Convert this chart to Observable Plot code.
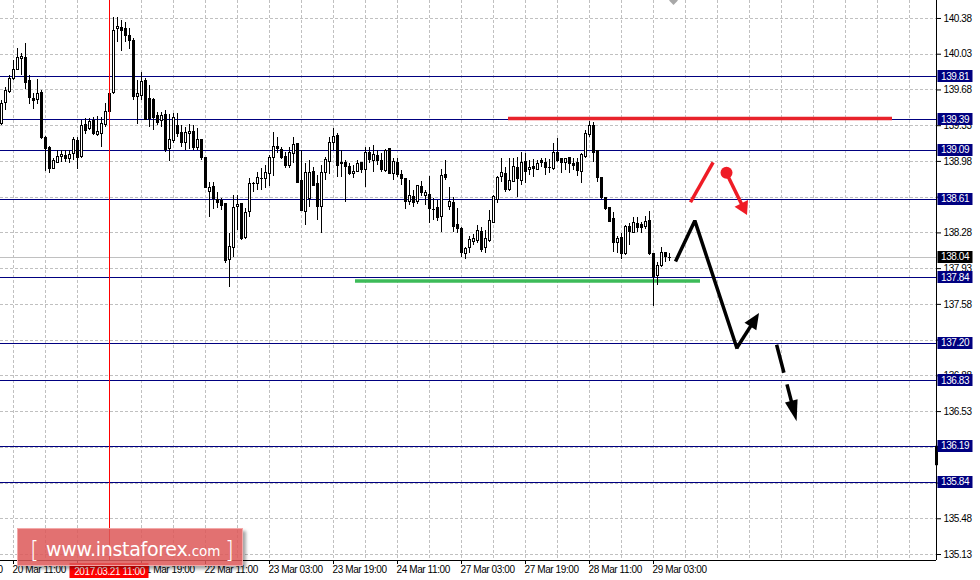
<!DOCTYPE html>
<html><head><meta charset="utf-8">
<script src="https://cdn.jsdelivr.net/npm/d3@7"></script>
<script src="https://cdn.jsdelivr.net/npm/@observablehq/plot@0.6"></script>
<style>
body{margin:0;background:#fff;}
#wrap{position:relative;width:980px;height:580px;overflow:hidden;}
#wm{position:absolute;left:17px;top:528px;width:226px;height:38px;background:rgba(221,90,90,0.86);border:1px solid rgba(245,175,175,0.9);box-shadow:3px 3px 3px rgba(0,0,0,0.35);box-sizing:border-box;}
#wm svg{position:absolute;left:0;top:0;}
</style></head><body><div id="wrap"></div>
<script>
// ---- data (hourly candles, index 0 = 20 Mar 08:00) ----
const opens = [139.35,139.55,139.66,139.79,139.88,139.98,139.99,139.77,139.59,139.58,
139.65,139.21,139.11,138.91,138.96,139.02,139.03,139.00,139.05,139.18,
139.02,139.34,139.30,139.38,139.24,139.25,139.34,139.64,139.65,140.28,
140.29,140.28,140.21,140.16,139.61,139.62,139.77,139.59,139.58,139.42,
139.38,139.43,139.10,139.18,139.33,139.26,139.16,139.25,139.27,139.11,
139.19,139.01,138.68,138.73,138.60,138.59,138.56,138.01,138.13,138.53,
138.56,138.23,138.48,138.76,138.76,138.81,138.81,138.86,139.01,139.12,
139.09,139.02,138.94,139.05,139.15,138.79,138.48,138.61,138.88,138.76,
138.53,138.87,138.97,139.16,139.23,138.96,138.96,138.93,138.86,138.88,
138.96,138.90,139.06,138.98,139.03,138.98,138.89,139.10,138.86,138.96,
138.85,138.81,138.58,138.63,138.58,138.73,138.64,138.65,138.51,138.52,
138.44,138.85,138.53,138.57,138.36,138.32,138.07,138.13,138.19,138.20,
138.29,138.13,138.20,138.38,138.60,138.83,138.86,138.70,138.78,138.92,
138.79,138.97,138.90,138.93,138.90,138.98,138.96,138.92,138.91,139.06,
139.00,138.96,139.01,138.95,138.96,138.88,139.02,139.24,139.33,139.08,
138.82,138.62,138.52,138.42,138.18,138.23,138.07,138.34,138.28,138.37,
138.36,138.34,138.40,138.07,137.86,137.96,138.08,138.04];
const highs = [139.58,139.70,139.82,139.97,140.09,140.04,140.13,139.82,139.65,139.78,
139.67,139.22,139.13,139.01,139.09,139.09,139.09,139.09,139.21,139.21,
139.38,139.40,139.40,139.41,139.42,139.41,139.55,139.69,140.39,140.39,
140.36,140.34,140.28,140.18,139.77,139.85,139.79,139.72,139.60,139.46,
139.46,139.48,139.44,139.45,139.45,139.33,139.31,139.34,139.33,139.30,
139.19,139.01,138.77,138.77,138.68,138.62,138.56,138.27,138.65,138.65,
138.56,138.52,138.81,138.77,138.87,138.91,138.94,139.04,139.26,139.21,
139.12,139.07,139.12,139.21,139.16,139.09,138.96,138.99,138.92,138.84,
138.94,139.02,139.21,139.30,139.25,139.09,138.99,138.96,138.94,138.99,
138.97,139.12,139.12,139.14,139.09,139.06,139.10,139.11,139.01,139.01,
138.89,138.81,138.79,138.70,138.74,138.78,138.70,138.83,138.62,138.60,
138.90,138.99,138.72,138.63,138.52,138.33,138.14,138.24,138.26,138.35,
138.33,138.30,138.50,138.65,138.83,139.01,138.92,139.01,139.01,139.02,
139.07,139.06,138.99,139.00,138.99,139.01,139.01,139.00,139.16,139.20,
139.01,139.01,139.01,139.01,139.01,139.06,139.28,139.37,139.36,139.08,
138.82,138.63,138.52,138.48,138.24,138.27,138.35,138.37,138.43,138.43,
138.38,138.44,138.49,138.08,137.99,138.14,138.09,138.08];
const lows = [139.33,139.48,139.65,139.77,139.87,139.82,139.68,139.54,139.49,139.54,
139.19,138.88,138.86,138.90,138.96,138.97,138.97,138.96,138.99,138.90,
139.01,139.24,139.28,139.23,139.22,139.12,139.31,139.45,139.64,140.14,
140.06,140.14,140.08,139.58,139.34,139.58,139.38,139.31,139.28,139.33,
139.31,139.07,138.98,139.16,139.21,139.12,139.09,139.10,139.09,139.09,
138.99,138.71,138.43,138.51,138.52,138.50,137.98,137.75,138.04,138.30,
138.21,138.22,138.43,138.68,138.70,138.70,138.71,138.73,138.83,139.06,
139.00,138.91,138.91,138.96,138.76,138.49,138.35,138.53,138.73,138.40,
138.27,138.79,138.85,139.09,138.82,138.82,138.58,138.84,138.81,138.87,
138.86,138.72,138.96,138.87,138.94,138.87,138.87,138.85,138.79,138.82,
138.74,138.51,138.55,138.53,138.56,138.64,138.55,138.37,138.40,138.39,
138.28,138.79,138.50,138.28,138.27,138.04,138.02,138.08,138.16,138.18,
138.09,138.08,138.19,138.37,138.57,138.77,138.68,138.69,138.77,138.63,
138.74,138.76,138.84,138.82,138.89,138.92,138.84,138.86,138.89,138.97,
138.86,138.89,138.86,138.89,138.83,138.76,139.01,139.21,138.97,138.77,
138.61,138.50,138.38,138.09,138.08,138.02,138.06,138.16,138.27,138.28,
138.27,138.31,138.06,137.56,137.76,137.94,137.99,138.00];
const closes = [139.54,139.67,139.79,139.88,139.99,140.00,139.75,139.60,139.57,139.64,
139.21,139.10,138.91,138.98,139.02,139.04,139.00,139.04,139.19,139.01,
139.33,139.28,139.37,139.25,139.27,139.35,139.46,139.46,140.26,140.30,
140.26,140.21,140.16,139.61,139.64,139.76,139.39,139.40,139.41,139.36,
139.42,139.09,139.19,139.41,139.25,139.16,139.26,139.27,139.11,139.19,
139.01,138.72,138.72,138.61,138.57,138.54,138.00,138.14,138.52,138.55,
138.22,138.47,138.76,138.76,138.82,138.81,138.87,139.01,139.12,139.10,
139.01,138.94,139.06,139.14,138.77,138.49,138.87,138.87,138.74,138.53,
138.87,138.99,139.16,139.22,138.94,138.95,138.93,138.86,138.88,138.95,
138.90,139.06,138.99,139.04,138.98,138.90,139.08,138.86,138.97,138.85,
138.81,138.58,138.64,138.57,138.74,138.67,138.67,138.51,138.51,138.43,
138.84,138.82,138.58,138.34,138.32,138.08,138.12,138.21,138.22,138.30,
138.11,138.22,138.40,138.63,138.82,138.87,138.70,138.79,138.93,138.81,
138.96,138.88,138.92,138.91,138.95,138.96,138.92,138.92,139.06,138.98,
138.96,139.00,138.95,138.94,138.89,139.04,139.25,139.33,139.06,138.82,
138.62,138.51,138.39,138.18,138.22,138.07,138.34,138.29,138.38,138.33,
138.33,138.39,138.07,137.85,137.96,138.08,138.04,138.04];

const levels = [139.81, 139.39, 139.09, 138.61, 137.84, 137.20, 136.83, 136.19, 135.84];
const bidPrice = 138.04;
const yTicks = [140.38,140.03,139.68,139.33,138.98,138.63,138.28,137.93,137.58,137.23,136.88,136.53,136.18,135.83,135.48,135.13];
const xTickK = [-13, 3, 19, 35, 51, 67, 83, 99, 115, 131, 147, 163];
const xTickLabels = ["17 Mar 19:00","20 Mar 11:00","21 Mar 03:00","21 Mar 19:00","22 Mar 11:00","23 Mar 03:00","23 Mar 19:00","24 Mar 11:00","27 Mar 03:00","27 Mar 19:00","28 Mar 11:00","29 Mar 03:00"];
const crosshairK = 27;
const crosshairLabel = "2017.03.21 11:00";
const resistance = [{price: 139.40, k1: 126.75, k2: 222.75}];
const support = [{price: 137.81, k1: 88.5, k2: 174.75}];
const forecastBlack = [[168.5, 138.00], [173.33, 138.40], [183.9, 137.145]];
const arrowBlackUp = [[183.9, 137.145], [189.5, 137.49]];
const arrowBlackDash = [[193.9, 137.18], [198.9, 136.43]];
const redUp = [[172.25, 138.58], [177.9, 138.97]];
const arrowRed = [[181.25, 138.87], [186.5, 138.45]];
const topMarker = [[168, 140.556]];
const axisMarker = [{y1: 136.19, y2: 136.00}];
const xDomain = [-0.25, 233.75];
const yDomain = [135.0715, 140.556];

const candles = opens.map((o, i) => ({k: i, o, h: highs[i], l: lows[i], c: closes[i]}));
const gridK = d3.range(3, xDomain[1], 8);
// labels fully hidden under the price tags / the crosshair date box are not drawn (as in the terminal)
const tagged = levels.concat([bidPrice]);
const yTickText = d => tagged.some(v => Math.abs(v - d) < 0.04) ? "" : d.toFixed(2);
const xTicks = xTickK.map((k, i) => ({k, label: xTickLabels[i]}))
  .filter(d => d.k < crosshairK - 10 || d.k > crosshairK);
const crisp = {shapeRendering: "crispEdges"};

const chart = Plot.plot({
  width: 980, height: 580,
  marginLeft: 0, marginRight: 44, marginTop: 0, marginBottom: 20,
  x: {domain: xDomain, axis: null, label: null},
  y: {domain: yDomain, axis: null, label: null},
  style: {fontFamily: "'Liberation Sans', Arial, sans-serif", fontSize: "10px", background: "#fff", color: "#000", letterSpacing: "-0.4px"},
  marks: [
    Plot.ruleY(yTicks, {stroke: "#c0c0c0", strokeDasharray: "3,2", ...crisp}),
    Plot.ruleX(gridK, {stroke: "#c0c0c0", strokeDasharray: "3,2", ...crisp}),
    Plot.ruleY(levels, {stroke: "#000080", ...crisp}),
    Plot.ruleY([bidPrice], {stroke: "#c0c0c0", ...crisp}),
    Plot.ruleY(resistance, {y: "price", x1: "k1", x2: "k2", stroke: "#e8232b", strokeWidth: 3.5}),
    Plot.ruleY(support, {y: "price", x1: "k1", x2: "k2", stroke: "#3dbb59", strokeWidth: 3.5}),
    Plot.ruleX(candles, {x: "k", y1: "l", y2: "h", stroke: "#000", ...crisp}),
    Plot.rect(candles.filter(d => d.c > d.o), {x1: d => d.k - 0.25, x2: d => d.k + 0.25, y1: "o", y2: "c", fill: "#fff", stroke: "#000", ...crisp}),
    Plot.rect(candles.filter(d => d.c < d.o), {x1: d => d.k - 0.25, x2: d => d.k + 0.25, y1: "o", y2: "c", fill: "#000", stroke: "#000", ...crisp}),
    Plot.ruleY(candles.filter(d => d.c === d.o), {y: "o", x1: d => d.k - 0.375, x2: d => d.k + 0.375, stroke: "#000", ...crisp}),
    Plot.ruleX([crosshairK], {stroke: "#ff0000", ...crisp}),
    Plot.line(forecastBlack, {x: d => d[0], y: d => d[1], stroke: "#000", strokeWidth: 3.5, strokeLinejoin: "miter", strokeLinecap: "butt"}),
    Plot.line(redUp, {x: d => d[0], y: d => d[1], stroke: "#ef1c26", strokeWidth: 3.5, strokeLinecap: "butt"}),
    Plot.dot([arrowRed[0]], {x: d => d[0], y: d => d[1], r: 6, fill: "#ef1c26"}),
    Plot.dot(topMarker, {x: d => d[0], y: d => d[1], r: 3.5, symbol: "square", rotate: 45, fill: "#a8a8a8"}),
    Plot.axisY({ticks: yTicks, anchor: "right", tickSize: 4, tickPadding: 3, tickFormat: yTickText, label: null}),
    Plot.axisX({ticks: xTickK.filter(k => k >= xDomain[0]), anchor: "bottom", tickSize: 4, tickFormat: () => "", label: null}),
    Plot.text(xTicks, {x: "k", text: "label", frameAnchor: "bottom", textAnchor: "start", lineAnchor: "top", dy: 5, dx: -1, fill: "#000"}),
    Plot.ruleX([xDomain[1]], {stroke: "#000", ...crisp}),
    Plot.ruleY([yDomain[0]], {stroke: "#000", ...crisp}),
    Plot.ruleX(axisMarker, {x: () => xDomain[1], y1: "y1", y2: "y2", stroke: "#000", strokeWidth: 3})
  ]
});
document.getElementById("wrap").appendChild(chart);

const sx = chart.scale("x"), sy = chart.scale("y");
const X = v => sx.apply(v), Y = v => sy.apply(v);
const svg = d3.select(chart);
const g = svg.append("g");

// price tags on the right axis
const tags = levels.map(v => ({v, fill: "#000080"})).concat([{v: bidPrice, fill: "#000"}]);
const xr = X(xDomain[1]);
for (const t of tags) {
  g.append("rect").attr("x", xr + 1.5).attr("y", Math.round(Y(t.v)) - 6).attr("width", 35).attr("height", 12).attr("fill", t.fill);
  g.append("text").attr("x", xr + 5).attr("y", Y(t.v)).attr("dy", "0.35em").attr("text-anchor", "start").attr("fill", "#fff").text(t.v.toFixed(2));
}

// crosshair date label
const cx = X(crosshairK);
g.append("rect").attr("x", cx - 39.5).attr("y", 563).attr("width", 79).attr("height", 15).attr("fill", "#ff0000");
g.append("text").attr("x", cx + 0.5).attr("y", 574.5).attr("text-anchor", "middle").attr("fill", "#fff").text(crosshairLabel);

// arrows with filled heads
function arrow(pts, color, width, headLen, headW, dash) {
  const x0 = X(pts[0][0]), y0 = Y(pts[0][1]);
  const x1 = X(pts[1][0]), y1 = Y(pts[1][1]);
  const dx = x1 - x0, dy = y1 - y0, L = Math.hypot(dx, dy), ux = dx / L, uy = dy / L;
  const bx = x1 - ux * headLen, by = y1 - uy * headLen;
  g.append("line").attr("x1", x0).attr("y1", y0).attr("x2", bx + ux * 2).attr("y2", by + uy * 2)
    .attr("stroke", color).attr("stroke-width", width).attr("stroke-dasharray", dash || null);
  g.append("polygon").attr("points", [[x1, y1], [bx - uy * headW, by + ux * headW], [bx + uy * headW, by - ux * headW]].map(p => p.join(",")).join(" "))
    .attr("fill", color);
}
arrow(arrowRed, "#ef1c26", 3.5, 13, 7.5);
arrow(arrowBlackUp, "#000", 3.5, 16, 7);
arrow(arrowBlackDash, "#000", 3.5, 21, 6.5, "29,12");

// watermark
const wm = document.createElement("div");
wm.id = "wm";
wm.innerHTML = `<svg width="226" height="38" font-family="'DejaVu Sans', sans-serif" fill="#fff">
<text x="12" y="29" font-size="23" font-weight="300">[</text>
<text x="28" y="27" font-size="19" letter-spacing="-0.3">www.instaforex<tspan font-size="13.5" letter-spacing="0">.com</tspan></text>
<text x="207" y="29" font-size="23" font-weight="300">]</text></svg>`;
document.getElementById("wrap").appendChild(wm);
</script></body></html>
